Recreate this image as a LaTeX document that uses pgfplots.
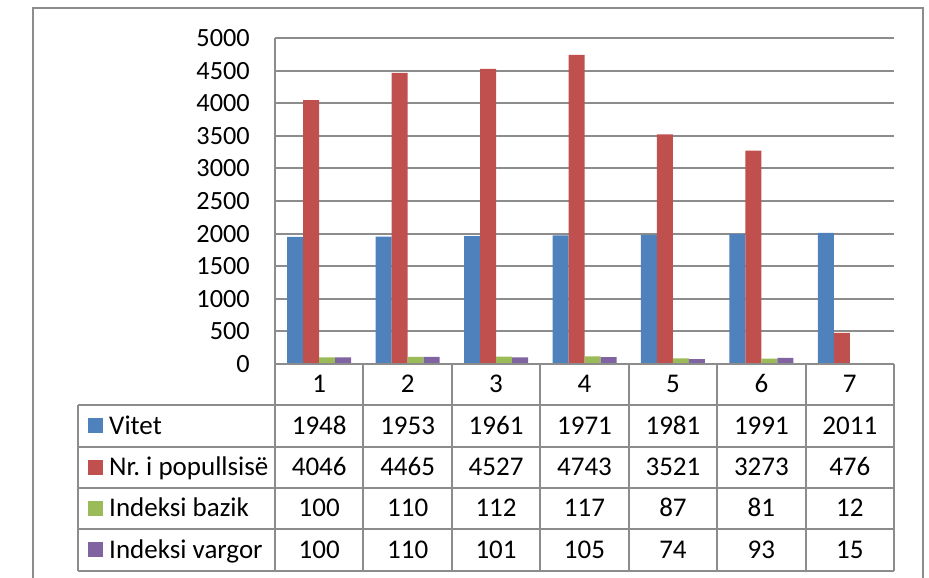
\documentclass[border=0pt]{standalone}
\usepackage{pgfplots}
\pgfplotsset{compat=1.18}
\usepackage{pgfplotstable}
\usepackage{fontspec}
\setmainfont{Carlito}

\definecolor{cblue}{HTML}{4F81BD}
\definecolor{cred}{HTML}{C0504D}
\definecolor{cgreen}{HTML}{9BBB59}
\definecolor{cpurple}{HTML}{8064A2}
\definecolor{gridc}{HTML}{8C8C8C}

% x = column number, then the four series
\pgfplotstableread{
x vitet pop baz varg
1 1948 4046 100 100
2 1953 4465 110 110
3 1961 4527 112 101
4 1971 4743 117 105
5 1981 3521 87 74
6 1991 3273 81 93
7 2011 476 12 15
}\datatable

\begin{document}
\frenchspacing
\fontsize{26}{31}\selectfont
\begin{tikzpicture}[x=1pt,y=1pt]
\path[use as bounding box] (0,0) rectangle (929,578);
\begin{scope}
  \clip (0,0) rectangle (929,578);
  \draw[gridc, line width=2] (33,570) rectangle (923,-20);
\end{scope}

\begin{axis}[
    at={(275pt,214pt)}, anchor=origin,
    scale only axis, width=619pt, height=326pt,
    xmin=0.5, xmax=7.5, ymin=0, ymax=5000,
    ytick={0,500,...,5000}, xtick=\empty,
    axis x line=none, axis y line*=left,
    axis line style={gridc, line width=2pt},
    ymajorgrids, grid style={gridc, line width=2pt},
    major tick length=0pt,
    ybar=0pt, bar width=16pt,
    yticklabel style={inner sep=0pt, xshift=-25pt, font=\fontsize{26.3}{31}\selectfont},
    /pgf/number format/assume math mode=true,
    /pgf/number format/1000 sep={},
  ]
  \addplot[fill=cblue, draw=none] table[x=x, y=vitet] {\datatable};
  \addplot[fill=cred, draw=none] table[x=x, y=pop] {\datatable};
  \addplot[fill=cgreen, draw=none] table[x=x, y=baz] {\datatable};
  \addplot[fill=cpurple, draw=none] table[x=x, y=varg] {\datatable};
\end{axis}

% data table under the axis
\begin{scope}[gridc, line width=2]
  \draw (275,214) -- (894,214);
  \foreach \yy in {173,131,90,49,7} \draw (78,\yy) -- (894,\yy);
  \foreach \k in {0,...,7} \draw ({275+88.43*\k},214) -- ({275+88.43*\k},7);
  \draw (78,173) -- (78,7);
\end{scope}

\fontsize{27}{31}\selectfont
\foreach \k in {1,...,7}
  \node[anchor=base, inner sep=0pt] at ({275+88.43*(\k-0.5)},194-8.5) {\k};

\foreach \col/\yy/\lab/\cc in {vitet/152/Vitet/cblue, pop/110.5/Nr. i popullsisë/cred, baz/69.5/Indeksi bazik/cgreen, varg/28/Indeksi vargor/cpurple} {
  \fill[\cc] (88,\yy-7.5) rectangle (103,\yy+7.5);
  \node[anchor=base west, inner sep=0pt] at (109,\yy-8.5) {\lab};
  \foreach \r in {0,...,6} {
    \pgfplotstablegetelem{\r}{\col}\of\datatable
    \node[anchor=base, inner sep=0pt] at ({275+88.43*(\r+0.5)},\yy-8.5) {\pgfplotsretval};
  }
}
\end{tikzpicture}
\end{document}
